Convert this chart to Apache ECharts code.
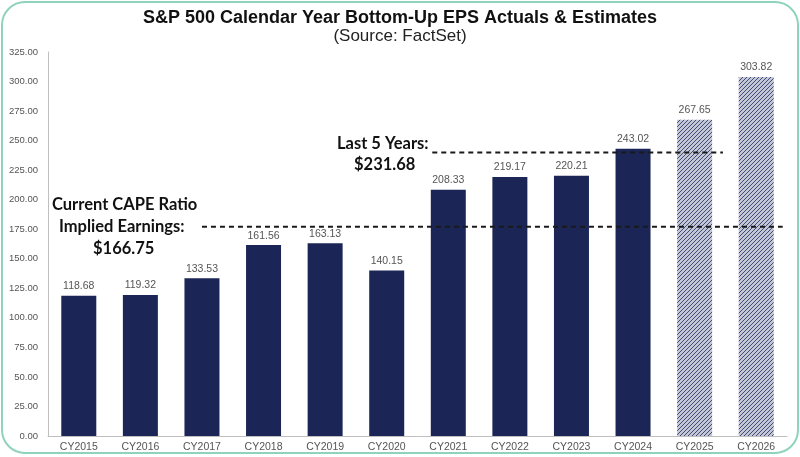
<!DOCTYPE html>
<html>
<head>
<meta charset="utf-8">
<script src="https://cdn.jsdelivr.net/npm/echarts@6/dist/echarts.min.js"></script>
<style>
html, body { margin: 0; padding: 0; background: #fff; }
#frame { position: absolute; left: 1px; top: 1px; width: 794px; height: 449px; border: 2px solid #8fd3bd; border-radius: 24px; }
#chart { position: absolute; left: 0; top: 0; width: 800px; height: 457px; }
</style>
</head>
<body>
<div id="frame"></div>
<div id="chart"></div>
<script>
var categories = ['CY2015', 'CY2016', 'CY2017', 'CY2018', 'CY2019', 'CY2020', 'CY2021', 'CY2022', 'CY2023', 'CY2024', 'CY2025', 'CY2026'];
var eps = [118.68, 119.32, 133.53, 161.56, 163.13, 140.15, 208.33, 219.17, 220.21, 243.02, 267.65, 303.82];
var isEstimate = [false, false, false, false, false, false, false, false, false, false, true, true];
// dashed reference lines, x in category index units
var capeLine = [[2.0, 177], [11.43, 177]];
var fiveYearLine = [[5.74, 240], [10.46, 240]];

var navy = '#1b2656';

// hatch pattern for the estimate bars
var hatch = document.createElement('canvas');
hatch.width = 4;
hatch.height = 4;
var hctx = hatch.getContext('2d');
hctx.fillStyle = '#c2c6d5';
hctx.fillRect(0, 0, 4, 4);
hctx.strokeStyle = '#333d6a';
hctx.lineWidth = 0.9;
hctx.beginPath();
hctx.moveTo(0, 4); hctx.lineTo(4, 0);
hctx.moveTo(-1, 1); hctx.lineTo(1, -1);
hctx.moveTo(3, 5); hctx.lineTo(5, 3);
hctx.stroke();

var barData = eps.map(function (v, i) {
	return {
		value: v,
		itemStyle: { color: isEstimate[i] ? { image: hatch, repeat: 'repeat' } : navy }
	};
});

var myChart = echarts.init(document.getElementById('chart'));
var annoFont = {
	fontFamily: 'Lato, sans-serif',
	fontWeight: 'bold',
	fontSize: 16.5,
	fill: '#111'
};

var option = {
	animation: false,
	title: {
		text: 'S&P 500 Calendar Year Bottom-Up EPS Actuals & Estimates',
		subtext: '(Source: FactSet)',
		left: 'center',
		top: 4,
		itemGap: 1,
		textStyle: { fontFamily: 'Liberation Sans, Arial', fontSize: 18, fontWeight: 'bold', color: '#111' },
		subtextStyle: { fontFamily: 'Liberation Sans, Arial', fontSize: 17, color: '#222' }
	},
	grid: { left: 48, right: 13, top: 52, bottom: 21 },
	xAxis: [{
		type: 'category',
		data: categories,
		axisLine: { lineStyle: { color: '#bfbfbf' } },
		axisTick: { show: false },
		axisLabel: { color: '#555', fontSize: 10.5, fontFamily: 'Liberation Sans, Arial', margin: 6 }
	}, {
		type: 'value',
		min: -0.5,
		max: 11.5,
		show: false
	}],
	yAxis: {
		type: 'value',
		min: 0,
		max: 325,
		interval: 25,
		axisLine: { show: true, onZero: false, lineStyle: { color: '#bfbfbf' } },
		axisTick: { show: false },
		splitLine: { show: false },
		axisLabel: {
			color: '#555',
			fontSize: 9.5,
			fontFamily: 'Liberation Sans, Arial',
			margin: 10,
			formatter: function (v) { return v.toFixed(2); }
		}
	},
	series: [{
		type: 'bar',
		data: barData,
		barWidth: 35,
		label: {
			show: true,
			position: 'top',
			distance: 4,
			color: '#555',
			fontSize: 10.5,
			fontFamily: 'Liberation Sans, Arial',
			formatter: function (p) { return p.value.toFixed(2); }
		}
	}, {
		type: 'line',
		xAxisIndex: 1,
		data: capeLine,
		symbol: 'none',
		z: 5,
		lineStyle: { color: '#1a1a1a', width: 2, type: [5, 4] }
	}, {
		type: 'line',
		xAxisIndex: 1,
		data: fiveYearLine,
		symbol: 'none',
		z: 5,
		lineStyle: { color: '#1a1a1a', width: 2, type: [5, 4] }
	}],
	graphic: [
		{ type: 'text', left: 52, top: 196, style: Object.assign({ text: 'Current CAPE Ratio' }, annoFont) },
		{ type: 'text', left: 59, top: 218, style: Object.assign({ text: 'Implied Earnings:' }, annoFont) },
		{ type: 'text', left: 93, top: 240, style: Object.assign({ text: '$166.75' }, annoFont) },
		{ type: 'text', left: 337, top: 135, style: Object.assign({ text: 'Last 5 Years:' }, annoFont) },
		{ type: 'text', left: 354, top: 156, style: Object.assign({ text: '$231.68' }, annoFont) }
	]
};
myChart.setOption(option);
</script>
</body>
</html>
